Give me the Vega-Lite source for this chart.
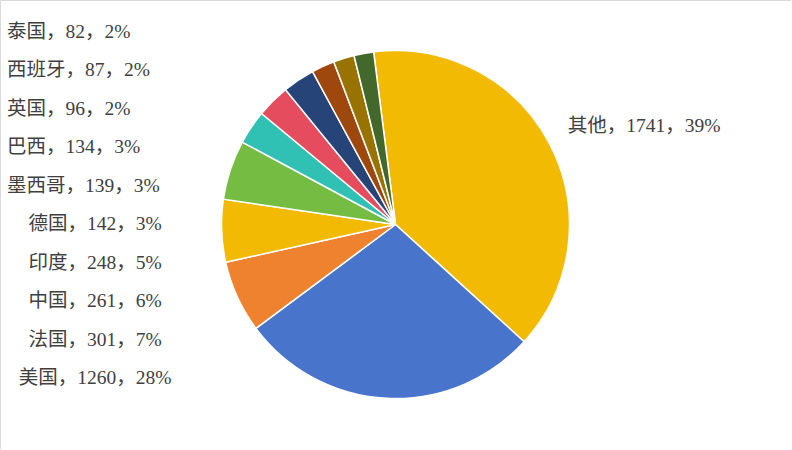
{
  "$schema": "https://vega.github.io/schema/vega-lite/v6.json",
  "width": 791,
  "height": 449,
  "padding": 0,
  "autosize": "none",
  "background": "#ffffff",
  "data": {
    "values": [
      {"idx": 0, "country": "其他", "count": 1741, "label": "其他，1741，39%"},
      {"idx": 1, "country": "美国", "count": 1260, "label": "美国，1260，28%"},
      {"idx": 2, "country": "法国", "count": 301, "label": "法国，301，7%"},
      {"idx": 3, "country": "中国", "count": 261, "label": "中国，261，6%"},
      {"idx": 4, "country": "印度", "count": 248, "label": "印度，248，5%"},
      {"idx": 5, "country": "德国", "count": 142, "label": "德国，142，3%"},
      {"idx": 6, "country": "墨西哥", "count": 139, "label": "墨西哥，139，3%"},
      {"idx": 7, "country": "巴西", "count": 134, "label": "巴西，134，3%"},
      {"idx": 8, "country": "英国", "count": 96, "label": "英国，96，2%"},
      {"idx": 9, "country": "西班牙", "count": 87, "label": "西班牙，87，2%"},
      {"idx": 10, "country": "泰国", "count": 82, "label": "泰国，82，2%"}
    ]
  },
  "layer": [
    {
      "mark": {"type": "arc", "outerRadius": 174, "stroke": "#ffffff", "strokeWidth": 1.5},
      "encoding": {
        "theta": {"field": "count", "type": "quantitative", "stack": true, "scale": {"range": [-0.126, 6.157]}},
        "order": {"field": "idx", "type": "quantitative"},
        "color": {
          "field": "country",
          "type": "nominal",
          "legend": null,
          "scale": {
            "domain": ["其他", "美国", "法国", "中国", "印度", "德国", "墨西哥", "巴西", "英国", "西班牙", "泰国"],
            "range": ["#F2BA02", "#4874CB", "#EE822F", "#F2BA02", "#75BD42", "#30C0B4", "#E54C5E", "#264478", "#9E480E", "#997300", "#43682B"]
          }
        }
      }
    },
    {
      "mark": {"type": "text", "radius": 194, "align": "left", "baseline": "middle", "dy": -9, "fontSize": 19.5, "font": "Liberation Serif, Noto Sans CJK SC", "color": "#404040"},
      "encoding": {
        "theta": {"field": "count", "type": "quantitative", "stack": true},
        "order": {"field": "idx", "type": "quantitative"},
        "text": {"condition": {"test": "datum.country === '其他'", "field": "label"}, "value": ""}
      }
    },
    {
      "transform": [{"filter": {"field": "country", "oneOf": ["泰国", "西班牙", "英国", "巴西", "墨西哥"]}}],
      "mark": {"type": "text", "align": "left", "baseline": "middle", "fontSize": 19.5, "font": "Liberation Serif, Noto Sans CJK SC", "color": "#404040"},
      "encoding": {
        "x": {"value": 7},
        "y": {
          "field": "country",
          "type": "nominal",
          "axis": null,
          "scale": {"type": "point", "padding": 0, "domain": ["泰国", "西班牙", "英国", "巴西", "墨西哥", "德国", "印度", "中国", "法国", "美国"], "range": [32, 378]}
        },
        "text": {"field": "label"}
      }
    },
    {
      "transform": [{"filter": {"field": "country", "oneOf": ["德国", "印度", "中国", "法国", "美国"]}}],
      "mark": {"type": "text", "align": "center", "baseline": "middle", "fontSize": 19.5, "font": "Liberation Serif, Noto Sans CJK SC", "color": "#404040"},
      "encoding": {
        "x": {"value": 95},
        "y": {
          "field": "country",
          "type": "nominal",
          "axis": null,
          "scale": {"type": "point", "padding": 0, "domain": ["泰国", "西班牙", "英国", "巴西", "墨西哥", "德国", "印度", "中国", "法国", "美国"], "range": [32, 378]}
        },
        "text": {"field": "label"}
      }
    }
  ],
  "config": {
    "view": {"stroke": "#D9D9D9", "strokeWidth": 1}
  }
}
